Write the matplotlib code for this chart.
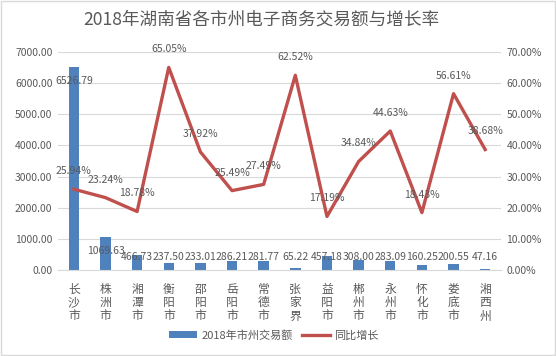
import matplotlib
matplotlib.use('Agg')
import matplotlib.pyplot as plt
from matplotlib.patches import Rectangle
from matplotlib.lines import Line2D
from matplotlib.patches import Patch

plt.rcParams['font.family'] = ['Noto Sans CJK SC', 'DejaVu Sans']

# Datos
ciudades = ['长沙市', '株洲市', '湘潭市', '衡阳市', '邵阳市', '岳阳市', '常德市',
            '张家界', '益阳市', '郴州市', '永州市', '怀化市', '娄底市', '湘西州']
monto = [6526.79, 1069.63, 466.73, 237.50, 233.01, 286.21, 281.77,
         65.22, 457.18, 308.00, 283.09, 160.25, 200.55, 47.16]
crecimiento = [25.94, 23.24, 18.78, 65.05, 37.92, 25.49, 27.49,
               62.52, 17.19, 34.84, 44.63, 18.43, 56.61, 38.68]
titulo = '2018年湖南省各市州电子商务交易额与增长率'
serie_barras = '2018年市州交易额'
serie_linea = '同比增长'

azul = '#4F81BD'
rojo = '#C0504D'
gris_texto = '#595959'
gris_grilla = '#D9D9D9'

fig = plt.figure(figsize=(5.56, 3.56), dpi=100)
ax = fig.add_axes([58/556, 1 - 270/356, 443/556, 218/356])
ax2 = ax.twinx()

x = list(range(len(ciudades)))

# Barras
ax.bar(x, monto, width=0.33, color=azul, zorder=2)
ax.set_ylim(0, 7000)
ax.set_xlim(-0.5, len(ciudades) - 0.5)
ax.set_yticks(range(0, 7001, 1000))
ax.set_yticklabels(['{:.2f}'.format(v) for v in range(0, 7001, 1000)])
ax.yaxis.grid(True, color=gris_grilla, linewidth=0.8, zorder=0)
ax.set_axisbelow(True)

# Linea
ax2.plot(x, crecimiento, color=rojo, linewidth=2.4, zorder=3)
ax2.set_ylim(0, 70)
ax2.set_yticks(range(0, 71, 10))
ax2.set_yticklabels(['{:.2f}%'.format(v) for v in range(0, 71, 10)])

for a in (ax, ax2):
    for s in a.spines.values():
        s.set_visible(False)
    a.tick_params(axis='both', length=0, labelsize=7.5, labelcolor=gris_texto, pad=4)
ax.spines['bottom'].set_visible(True)
ax.spines['bottom'].set_color(gris_grilla)

ax.set_xticks(x)
ax.set_xticklabels(['\n'.join(c) for c in ciudades], fontsize=8.5,
                   linespacing=1.05, color=gris_texto, va='top')
ax.tick_params(axis='x', pad=9)

# Etiquetas de barras
for i, v in enumerate(monto):
    ax.text(i, max(v - 450, 420), '{:.2f}'.format(v), ha='center', va='center',
            fontsize=7.5, color=gris_texto, zorder=4)

# Etiquetas de linea
for i, v in enumerate(crecimiento):
    ax2.annotate('{:.2f}%'.format(v), (i, v), xytext=(0, 13), textcoords='offset points',
                 ha='center', va='center', fontsize=7.5, color=gris_texto, zorder=5)

fig.text(261/556, 1 - 20/356, titulo, ha='center', va='center', fontsize=12.7, color=gris_texto)

# Leyenda
handles = [Patch(facecolor=azul, edgecolor='none'),
           Line2D([0], [0], color=rojo, linewidth=2.4)]
fig.legend(handles, [serie_barras, serie_linea], loc='center', bbox_to_anchor=(274/556, 1 - 335/356),
           ncol=2, frameon=False, fontsize=8, labelcolor=gris_texto,
           handlelength=2.5, handleheight=0.6, columnspacing=0.8, handletextpad=0.4)

# Borde
fig.patches.append(Rectangle((0.001, 0.002), 0.997, 0.995, transform=fig.transFigure,
                             fill=False, edgecolor='#D9D9D9', linewidth=1))

fig.savefig('out.png', dpi=100)
